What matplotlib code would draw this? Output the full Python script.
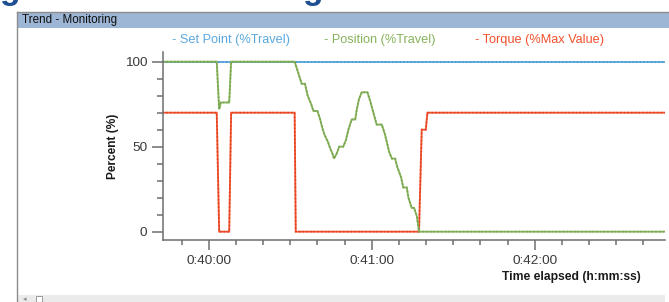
import matplotlib
matplotlib.use('Agg')
import matplotlib.pyplot as plt
from matplotlib.ticker import MultipleLocator, FuncFormatter
from matplotlib.patches import Rectangle
from matplotlib.lines import Line2D

# time in seconds elapsed, values in percent
setpoint_t = [2383, 2570]
setpoint = [100, 100]

position_t = [2383, 2402.9, 2403.8, 2404.4, 2407.5, 2408.2, 2431.6, 2433.2, 2434.2,
              2435.4, 2436.4, 2437.7, 2438.5, 2440.0, 2441.0, 2441.8, 2442.6, 2443.8,
              2444.7, 2445.5, 2446.1, 2447.1, 2448.0, 2449.5, 2450.5, 2451.4, 2452.6,
              2453.9, 2454.5, 2455.3, 2456.3, 2458.4, 2459.4, 2460.6, 2461.8, 2463.7,
              2464.9, 2466.4, 2467.4, 2468.6, 2469.4, 2470.8, 2471.6, 2472.9, 2473.5,
              2474.7, 2475.6, 2476.6, 2477.4, 2570]
position = [100, 100, 72, 76, 76, 100, 100, 92, 87,
            87, 80, 75, 71, 71, 66, 61, 57, 53,
            49, 46, 43, 46, 50, 50, 54, 60, 66,
            66, 72, 78, 82, 82, 77, 70, 63, 63,
            57, 47, 43, 43, 38, 32, 26, 26, 20,
            14, 14, 9, 0, 0]

torque_t = [2383, 2402.9, 2403.8, 2407.5, 2408.2, 2431.6, 2432.0, 2477.4, 2478.4,
            2479.9, 2480.5, 2570]
torque = [70, 70, 0, 0, 70, 70, 0, 0, 60, 60, 70, 70]

labels = ['- Set Point (%Travel)', '- Position (%Travel)', '- Torque (%Max Value)']
colors = ['#5aa8de', '#86b35a', '#f2502c']
dots = ['#3f8fc8', '#6e9a44', '#d83a18']

W, H = 669, 302
fig = plt.figure(figsize=(W / 100, H / 100), dpi=100)
fig.patch.set_facecolor('white')

def fx(px):
    return px / W

def fy(py):
    return 1 - py / H

# window chrome: heading remnants, title bar, left border, scrollbar
fig.text(fx(0), fy(-1), 'g', fontsize=24, fontweight='bold', color='#1d4f91',
         family='Liberation Sans', va='baseline')
fig.text(fx(303), fy(-1), 'g', fontsize=24, fontweight='bold', color='#1d4f91',
         family='Liberation Sans', va='baseline')
fig.patches.append(Rectangle((fx(17), fy(28)), fx(669 - 17), 16 / H, transform=fig.transFigure,
                             facecolor='#9db6d6', edgecolor='none'))
fig.lines.append(Line2D([fx(17), 1], [fy(12), fy(12)], transform=fig.transFigure,
                        color='#8c8c8c', lw=1))
fig.lines.append(Line2D([fx(17), fx(17)], [fy(12), 0], transform=fig.transFigure,
                        color='#8c8c8c', lw=1))
fig.text(fx(22), fy(20), 'Trend - Monitoring', fontsize=8.4, color='#111111',
         family='Liberation Sans', va='center')
fig.patches.append(Rectangle((fx(17.5), 0), fx(665 - 17.5), 7 / H, transform=fig.transFigure,
                             facecolor='#ebebeb', edgecolor='none'))
fig.patches.append(Rectangle((fx(36), 0), fx(6), 6 / H, transform=fig.transFigure,
                             facecolor='white', edgecolor='#9a9a9a', lw=0.7))
fig.text(fx(23), fy(299), '\u25c2', fontsize=5, color='#8a8a8a', va='center')

# legend line
for lab, c, x0 in zip(labels, colors, [172, 324, 475]):
    fig.text(fx(x0), fy(40), lab, fontsize=9.2, color=c, family='Liberation Sans',
             va='center')

ax = fig.add_axes([fx(162.7), fy(240), fx(665 - 162.7), (240 - 52) / H])
for t, v, c, d in [(setpoint_t, setpoint, colors[0], dots[0]),
                   (torque_t, torque, colors[2], dots[2]),
                   (position_t, position, colors[1], dots[1])]:
    ax.plot(t, v, color=c, lw=1.3, solid_joinstyle='miter')
    ax.plot(t, v, color=d, lw=1.4, ls=(0, (0.8, 1.1)), alpha=0.6)

ax.set_xlim(2383, 2568)
ax.set_ylim(-4.9, 105.7)

ax.xaxis.set_major_locator(MultipleLocator(60))
ax.xaxis.set_minor_locator(MultipleLocator(10))
ax.yaxis.set_major_locator(MultipleLocator(50))
ax.yaxis.set_minor_locator(MultipleLocator(10))

def hms(s, pos):
    s = int(round(s))
    return '%d:%02d:%02d' % (s // 3600, (s % 3600) // 60, s % 60)

ax.xaxis.set_major_formatter(FuncFormatter(hms))

for side in ['top', 'right']:
    ax.spines[side].set_visible(False)
for side in ['left', 'bottom']:
    ax.spines[side].set_color('#6e6e6e')
    ax.spines[side].set_linewidth(1.1)

ax.tick_params(which='major', color='#6e6e6e', width=1.1, labelcolor='#3a3a3a',
               labelsize=9.7)
ax.tick_params(axis='x', which='major', length=7.2, pad=3.5)
ax.tick_params(axis='x', which='minor', length=3.6, color='#6e6e6e', width=1.1)
ax.tick_params(axis='y', which='major', length=7.9, pad=3.2)
ax.tick_params(axis='y', which='minor', length=4.3, color='#6e6e6e', width=1.1)
for lbl in ax.get_xticklabels() + ax.get_yticklabels():
    lbl.set_family('Liberation Sans')

narrow = ['Liberation Sans Narrow', 'Liberation Sans', 'DejaVu Sans']
fig.text(fx(113), fy(146), 'Percent (%)', rotation=90, fontsize=8.6, fontweight='bold',
         color='#1a1a1a', family=narrow, ha='center', va='center')
fig.text(fx(571), fy(277), 'Time elapsed (h:mm:ss)', fontsize=8.7, fontweight='bold',
         color='#1a1a1a', family=narrow, ha='center', va='center')

fig.savefig('out.png', dpi=100, facecolor='white')
